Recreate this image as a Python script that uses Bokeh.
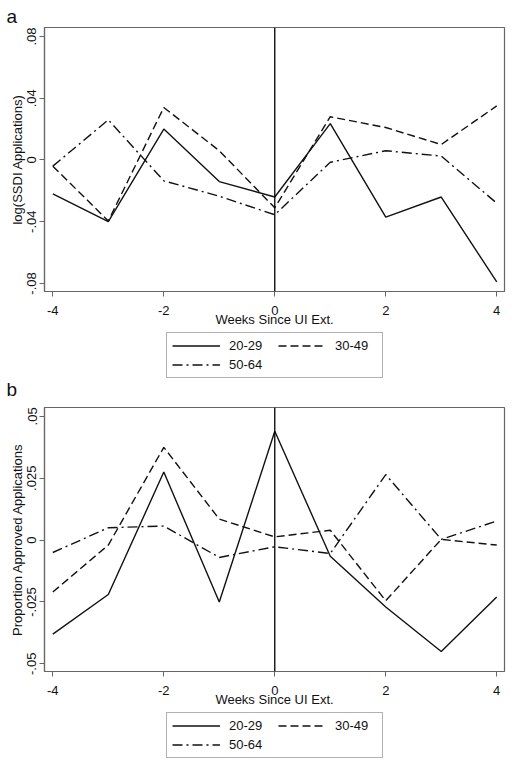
from bokeh.plotting import figure
from bokeh.models import FixedTicker, Span, Legend, LegendItem, Range1d
from bokeh.layouts import column
from bokeh.embed import file_html
from bokeh.resources import INLINE

weeks = [-4, -3, -2, -1, 0, 1, 2, 3, 4]
series_names = ["20-29", "30-49", "50-64"]

# Panel a: log(SSDI Applications)
a_2029 = [-0.022, -0.040, 0.020, -0.014, -0.024, 0.0235, -0.037, -0.024, -0.079]
a_3049 = [-0.004, -0.0395, 0.034, 0.006, -0.031, 0.028, 0.021, 0.010, 0.035]
a_5064 = [-0.004, 0.026, -0.0135, -0.0235, -0.0355, -0.0015, 0.006, 0.0025, -0.028]
a_ticks = [-0.08, -0.04, 0.0, 0.04, 0.08]
a_tick_labels = ["-.08", "-.04", "0", ".04", ".08"]

# Panel b: Proportion Approved Applications
b_2029 = [-0.038, -0.022, 0.0275, -0.025, 0.044, -0.0065, -0.027, -0.045, -0.023]
b_3049 = [-0.021, -0.002, 0.0375, 0.0085, 0.0013, 0.004, -0.0245, 0.0003, -0.002]
b_5064 = [-0.005, 0.005, 0.0057, -0.007, -0.0027, -0.0054, 0.0265, 0.0003, 0.0077]
b_ticks = [-0.05, -0.025, 0.0, 0.025, 0.05]
b_tick_labels = ["-.05", "-.025", "0", ".025", ".05"]

x_ticks = [-4, -2, 0, 2, 4]
x_tick_labels = ["-4", "-2", "0", "2", "4"]

FONT = "Liberation Sans"
INK = "#111111"
FRAME = "#666666"
dashes = ["solid", "8 4", "10 4 2 4"]
W = 508


def style_title(p, letter):
    p.title.text = letter
    p.title.align = "left"
    p.title.offset = -38
    p.title.standoff = 0
    p.title.text_font = FONT
    p.title.text_font_size = "19px"
    p.title.text_font_style = "normal"
    p.title.text_color = INK


def make_panel(ylabel, series, yticks, ylabels, yr, top, letter=None):
    p = figure(width=W, height=top + 264 + 40, output_backend="svg",
               toolbar_location=None, x_range=Range1d(-4.15, 4.14),
               y_range=Range1d(*yr), min_border_left=44, min_border_right=4,
               min_border_top=top, min_border_bottom=40)
    p.grid.visible = False
    p.outline_line_color = FRAME
    p.outline_line_width = 1.2
    if letter:
        style_title(p, letter)
        p.title.standoff = 2

    p.xaxis.ticker = FixedTicker(ticks=x_ticks)
    p.xaxis.major_label_overrides = {t: l for t, l in zip(x_ticks, x_tick_labels)}
    p.yaxis.ticker = FixedTicker(ticks=yticks)
    p.yaxis.major_label_overrides = {t: l for t, l in zip(yticks, ylabels)}
    p.xaxis.axis_label = "Weeks Since UI Ext."
    p.yaxis.axis_label = ylabel
    for ax in (p.xaxis[0], p.yaxis[0]):
        ax.axis_line_color = FRAME
        ax.axis_line_width = 1.2
        ax.major_tick_line_color = FRAME
        ax.major_tick_out = 5
        ax.major_tick_in = 0
        ax.minor_tick_line_color = None
        ax.major_label_text_font = FONT
        ax.major_label_text_font_size = "13px"
        ax.major_label_text_color = INK
        ax.axis_label_text_font = FONT
        ax.axis_label_text_font_size = "13px"
        ax.axis_label_text_font_style = "normal"
        ax.axis_label_text_color = INK
        ax.major_label_standoff = 3
        ax.axis_label_standoff = 0
    p.xaxis.major_label_standoff = 9
    p.xaxis.axis_label_standoff = -6
    p.yaxis.major_label_orientation = "vertical"

    p.add_layout(Span(location=0, dimension="height", line_color="black",
                      line_width=1.3))

    for ys, d in zip(series, dashes):
        p.line(weeks, ys, line_color=INK, line_width=1.4, line_dash=d)
    return p


def make_legend(series, height, bottom_border, letter=None):
    # legend strip: series lines lie outside its visible range, only the key shows
    lf = figure(width=W, height=height, output_backend="svg",
                toolbar_location=None, x_axis_type=None, y_axis_type=None,
                x_range=Range1d(-4.15, 4.14), y_range=Range1d(10, 11),
                min_border_left=44, min_border_right=4, min_border_top=0,
                min_border_bottom=bottom_border)
    lf.grid.visible = False
    lf.outline_line_color = None
    if letter:
        lf.title_location = "below"
        style_title(lf, letter)
        lf.title.standoff = -4
    rends = [lf.line(weeks, ys, line_color=INK, line_width=1.4, line_dash=d)
             for ys, d in zip(series, dashes)]
    common = dict(orientation="vertical", glyph_width=48, glyph_height=15,
                  label_height=15, label_standoff=9, spacing=4, padding=5,
                  margin=0, label_text_font=FONT, label_text_font_size="13px",
                  label_text_color=INK)
    leg1 = Legend(items=[LegendItem(label=series_names[0], renderers=[rends[0]]),
                         LegendItem(label=series_names[2], renderers=[rends[2]])],
                  location=(122, 0), label_width=148,
                  border_line_color=FRAME, border_line_width=1,
                  background_fill_alpha=1, **common)
    leg2 = Legend(items=[LegendItem(label=series_names[1], renderers=[rends[1]])],
                  location=(234, 25), border_line_color=None,
                  background_fill_alpha=0, **common)
    lf.add_layout(leg1)
    lf.add_layout(leg2)
    return lf


pa = make_panel("log(SSDI Applications)", [a_2029, a_3049, a_5064],
                a_ticks, a_tick_labels, (-0.0852, 0.0858), 27, letter="a")
la = make_legend([a_2029, a_3049, a_5064], 74, 27, letter="b")
pb = make_panel("Proportion Approved Applications",
                [b_2029, b_3049, b_5064], b_ticks, b_tick_labels,
                (-0.0531, 0.0536), 2)
lb = make_legend([b_2029, b_3049, b_5064], 48, 1)

layout = column(pa, la, pb, lb, spacing=0)
open("out.html", "w").write(file_html(layout, INLINE))
